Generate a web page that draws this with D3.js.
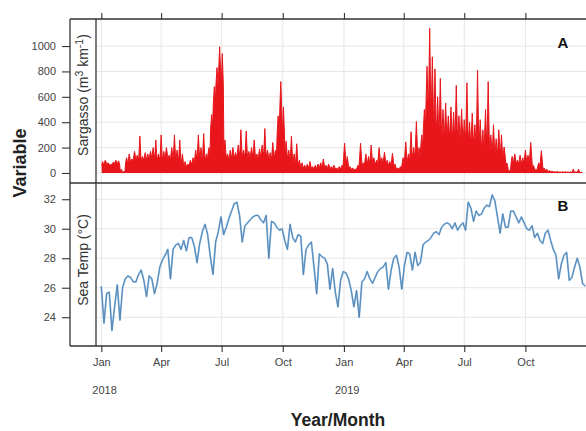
<!DOCTYPE html>
<html>
<head>
<meta charset="utf-8">
<script src="https://cdn.jsdelivr.net/npm/d3@7"></script>
<style>
  body { margin: 0; background: #fff; }
  svg { display: block; font-family: "Liberation Sans", Arial, sans-serif; }
</style>
</head>
<body>
<svg id="chart" width="586" height="431"></svg>
<script>
// Four-day sampling bins starting 1 Jan 2018
const binStart = "2018-01-01";
const binDays = 4;

// Sargasso abundance (m^3 km^-1): peak of each bin
const sargassoPeak = [
  90,100,80,70,85,100,95,30,15,120,
  150,110,170,140,290,130,160,150,170,200,
  260,150,300,170,200,140,200,300,180,260,
  150,90,70,100,120,180,300,200,310,150,
  200,460,680,830,995,940,260,150,180,200,
  160,220,340,180,330,170,200,260,150,190,
  220,350,180,160,240,180,450,720,520,250,
  180,290,150,230,100,80,60,70,90,50,
  60,70,80,110,60,70,50,60,40,50,
  60,235,130,50,40,30,60,235,80,150,
  130,220,120,100,200,120,165,100,90,155,
  70,40,50,120,245,150,325,200,405,200,
  300,500,840,1140,915,820,600,745,500,550,
  450,520,480,690,450,505,420,710,400,470,
  380,810,420,340,500,720,300,380,270,340,
  300,205,80,20,130,150,100,140,120,180,
  140,240,60,30,80,175,40,30,20,15,
  10,12,8,10,10,8,10,30,10,30,5
];
// Sargasso abundance: typical (dense) level within each bin
const sargassoBody = [
  60,80,70,60,75,85,70,10,5,80,
  100,90,120,110,130,100,120,110,130,140,
  120,110,130,120,140,110,130,140,120,110,
  80,50,60,70,80,110,150,120,140,100,
  150,350,550,700,800,700,150,110,120,140,
  120,150,170,130,160,120,140,150,110,130,
  150,170,130,110,140,130,300,500,300,150,
  110,130,90,100,60,50,40,45,50,35,
  40,45,50,60,40,45,35,40,30,35,
  40,120,70,35,30,25,40,110,50,90,
  80,110,80,70,110,80,100,70,60,90,
  40,30,35,70,130,90,160,120,200,130,
  200,350,550,600,500,420,350,380,300,330,
  300,330,300,350,280,310,260,340,250,280,
  240,330,250,200,270,300,180,200,160,190,
  160,140,50,10,80,100,70,90,80,110,
  90,130,40,20,50,90,25,20,12,10,
  8,8,6,7,6,6,5,8,6,8,3
];

// Sea surface temperature (°C), one value per bin
const seaTemp = [
  26.1,23.6,25.6,25.7,23.1,24.7,26.2,23.8,26.0,26.6,
  26.8,26.7,26.4,26.4,26.9,27.2,26.5,25.4,26.8,26.6,
  25.6,26.3,27.4,27.9,28.2,28.6,26.6,28.6,28.9,29.0,
  28.6,29.2,28.5,29.4,29.4,28.8,27.7,29.0,29.8,30.3,
  29.6,28.1,26.9,29.1,29.8,30.8,29.6,30.1,30.7,31.2,
  31.7,31.8,30.9,29.1,30.2,30.4,30.6,30.8,30.9,30.9,
  30.6,30.4,30.9,28.0,30.5,30.4,30.1,29.9,30.0,29.2,
  28.6,30.3,29.4,29.1,29.6,29.5,26.9,28.6,28.9,29.1,
  27.4,25.6,28.3,28.1,28.0,27.6,25.9,27.3,25.7,24.7,
  26.5,27.1,27.0,26.6,25.8,24.7,25.8,24.0,26.4,26.6,
  27.1,26.6,26.3,26.7,27.1,27.3,27.4,27.7,25.9,27.2,
  28.0,28.2,27.4,25.9,27.5,28.4,28.3,27.2,28.4,27.5,
  27.7,28.9,29.1,29.2,29.4,29.7,29.8,29.6,30.1,30.3,
  30.4,30.3,30.0,30.4,29.9,30.2,30.4,29.9,31.8,31.4,
  30.5,31.2,30.9,31.0,31.4,31.6,31.5,32.3,31.9,30.8,
  29.7,31.0,30.1,30.1,31.2,31.2,30.8,30.4,30.8,30.4,
  30.0,29.9,30.2,29.4,29.7,29.2,29.0,29.7,29.9,29.2,
  28.6,28.2,26.6,27.6,28.2,28.4,26.5,26.7,27.4,28.0,
  27.4,26.3,26.1
];

const sargassoTicks = [0, 200, 400, 600, 800, 1000];
const tempTicks = [24, 26, 28, 30, 32];
const monthAbbr = ["Jan", "Feb", "Mar", "Apr", "May", "Jun", "Jul", "Aug", "Sep", "Oct", "Nov", "Dec"];
const yearLabels = ["2018", "2019"];

// ---- layout ----
const frameLeft = 70, stripRight = 96, plotRight = 600;
const topA = 19, midY = 183, bottomB = 346;

const svg = d3.select("#chart");
svg.append("rect").attr("width", 586).attr("height", 431).attr("fill", "#fff");

const t0 = d3.isoParse(binStart + "T00:00:00Z");
const binDate = i => d3.utcDay.offset(t0, i * binDays);
const binHour = (i, h) => d3.utcHour.offset(binDate(i), h);

const domStart = new Date(Date.UTC(2017, 11, 24));
const domEnd = new Date(Date.UTC(2020, 0, 10));
const pxPerDay = 0.6647;
const x = d3.scaleUtc()
  .domain([domStart, domEnd])
  .range([stripRight, stripRight + d3.utcDay.count(domStart, domEnd) * pxPerDay]);

const yA = d3.scaleLinear().domain([-79, 1213]).range([midY, topA]);
const yB = d3.scaleLinear().domain([22.05, 33.1]).range([bottomB, midY]);

const monthTicks = d3.utcMonth.range(new Date(Date.UTC(2018, 0, 1)), new Date(Date.UTC(2020, 0, 1)), 3);

svg.append("clipPath").attr("id", "clipA")
  .append("rect").attr("x", stripRight).attr("y", topA).attr("width", plotRight - stripRight).attr("height", midY - topA);
svg.append("clipPath").attr("id", "clipB")
  .append("rect").attr("x", stripRight).attr("y", midY).attr("width", plotRight - stripRight).attr("height", bottomB - midY);

const gridColor = "#e6e6e6";

// grid lines
function grid(yScale, ticks, y0, y1) {
  const g = svg.append("g");
  g.selectAll("line.h").data(ticks).join("line")
    .attr("x1", stripRight).attr("x2", plotRight)
    .attr("y1", d => yScale(d)).attr("y2", d => yScale(d))
    .attr("stroke", gridColor).attr("stroke-width", 1);
  g.selectAll("line.v").data(monthTicks).join("line")
    .attr("x1", d => x(d)).attr("x2", d => x(d))
    .attr("y1", y0).attr("y2", y1)
    .attr("stroke", gridColor).attr("stroke-width", 1);
}
grid(yA, sargassoTicks, topA, midY);
grid(yB, tempTicks, midY, bottomB);

// Sargasso: dense level per bin with a narrow spike up to the bin's peak
const sargPts = [];
sargassoPeak.forEach((pk, i) => {
  sargPts.push([binHour(i, 12), sargassoBody[i]]);
  sargPts.push([binHour(i, 48), pk]);
  sargPts.push([binHour(i, 84), sargassoBody[i]]);
});
const gA = svg.append("g").attr("clip-path", "url(#clipA)");
gA.append("path")
  .datum(sargPts)
  .attr("fill", "#e8161b")
  .attr("stroke", "none")
  .attr("d", d3.area().x(d => x(d[0])).y0(yA(0)).y1(d => yA(d[1])));
gA.append("path")
  .datum(sargPts)
  .attr("fill", "none")
  .attr("stroke", "#e8161b")
  .attr("stroke-width", 1)
  .attr("stroke-linejoin", "round")
  .attr("d", d3.line().x(d => x(d[0])).y(d => yA(d[1])));

// Sea temperature line
const tempLine = d3.line().x((d, i) => x(binDate(i))).y(d => yB(d));
const gB = svg.append("g").attr("clip-path", "url(#clipB)");
gB.append("path").datum(seaTemp)
  .attr("fill", "none").attr("stroke", "#86b8e3").attr("stroke-width", 1.8)
  .attr("stroke-linejoin", "round").attr("d", tempLine);
gB.append("path").datum(seaTemp)
  .attr("fill", "none").attr("stroke", "#45739e").attr("stroke-width", 0.7)
  .attr("stroke-linejoin", "round").attr("d", tempLine);

// frame
const frameColor = "#333";
const frame = svg.append("g").attr("stroke", frameColor).attr("stroke-width", 1.3);
[topA, midY, bottomB].forEach(yy => frame.append("line").attr("x1", frameLeft).attr("x2", plotRight).attr("y1", yy).attr("y2", yy));
[frameLeft, stripRight].forEach(xx => frame.append("line").attr("x1", xx).attr("x2", xx).attr("y1", topA).attr("y2", bottomB));

// axes
function styleAxis(g) {
  g.select(".domain").remove();
  g.selectAll(".tick line").attr("stroke", frameColor).attr("stroke-width", 1.1);
  g.selectAll(".tick text").attr("fill", "#444").attr("font-size", 11)
    .attr("font-family", "Liberation Sans, Arial, sans-serif");
}
svg.append("g").attr("transform", `translate(${frameLeft},0)`)
  .call(d3.axisLeft(yA).tickValues(sargassoTicks).tickSize(8).tickPadding(6).tickFormat(d3.format("d")))
  .call(styleAxis);
svg.append("g").attr("transform", `translate(${frameLeft},0)`)
  .call(d3.axisLeft(yB).tickValues(tempTicks).tickSize(8).tickPadding(6).tickFormat(d3.format("d")))
  .call(styleAxis);
svg.append("g").attr("transform", `translate(0,${bottomB})`)
  .call(d3.axisBottom(x).tickValues(monthTicks).tickSize(6).tickPadding(6)
    .tickFormat(d => monthAbbr[d.getUTCMonth()]))
  .call(styleAxis);
svg.append("g").attr("transform", `translate(0,${topA})`)
  .call(d3.axisTop(x).tickValues(monthTicks).tickSize(6).tickFormat(""))
  .call(styleAxis);

// year labels under January ticks
const janTicks = monthTicks.filter(d => d.getUTCMonth() === 0);
svg.append("g").selectAll("text").data(janTicks).join("text")
  .attr("x", d => x(d) - 9).attr("y", 394)
  .attr("font-size", 11).attr("fill", "#444")
  .text((d, i) => yearLabels[i]);

// strip labels
const stripX = (frameLeft + stripRight) / 2;
const sLab = svg.append("text")
  .attr("transform", `translate(${stripX + 5},${95}) rotate(-90)`)
  .attr("text-anchor", "middle").attr("font-size", 14).attr("fill", "#333");
sLab.append("tspan").text("Sargasso (m");
sLab.append("tspan").attr("dy", -5).attr("font-size", 10.5).text("3");
sLab.append("tspan").attr("dy", 5).text(" km");
sLab.append("tspan").attr("dy", -5).attr("font-size", 10.5).text("-1");
sLab.append("tspan").attr("dy", 5).text(")");

svg.append("text")
  .attr("transform", `translate(${stripX + 5},${260}) rotate(-90)`)
  .attr("text-anchor", "middle").attr("font-size", 14).attr("fill", "#333")
  .text("Sea Temp (°C)");

// panel letters
svg.append("text").attr("x", 563).attr("y", 47.5).attr("text-anchor", "middle")
  .attr("font-size", 15).attr("font-weight", "bold").attr("fill", "#111").text("A");
svg.append("text").attr("x", 563).attr("y", 210.5).attr("text-anchor", "middle")
  .attr("font-size", 15).attr("font-weight", "bold").attr("fill", "#111").text("B");

// axis titles
svg.append("text").attr("x", 338).attr("y", 426).attr("text-anchor", "middle")
  .attr("font-size", 17.5).attr("font-weight", "bold").attr("fill", "#222").text("Year/Month");
svg.append("text").attr("transform", "translate(26,163) rotate(-90)").attr("text-anchor", "middle")
  .attr("font-size", 18).attr("font-weight", "bold").attr("fill", "#222").text("Variable");
</script>
</body>
</html>
